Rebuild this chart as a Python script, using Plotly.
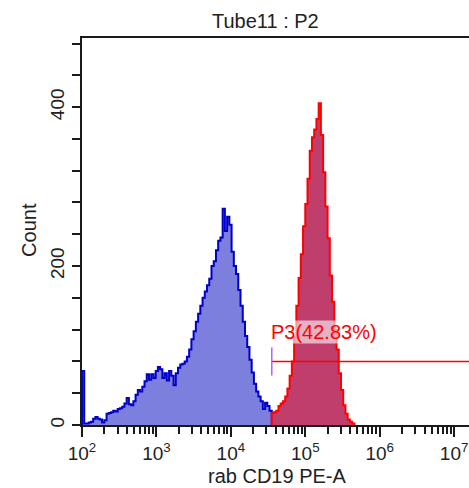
import numpy as np
import plotly.graph_objects as go

# Histogram of rab CD19 PE-A, tube 11, population P2.
# Bins are equal-width in log10 space, starting at 10^2.
LOG_START = 2.0
BIN_WIDTH = 0.03  # decades per bin

# Counts below the P3 gate (bins 0..84)
below_gate_counts = [
    68, 2, 2, 3, 4, 8, 10, 8, 7, 3,
    6, 14, 15, 16, 18, 17, 20, 21, 23, 27,
    34, 26, 25, 30, 38, 44, 42, 48, 55, 64,
    57, 64, 59, 68, 73, 70, 59, 65, 56, 68,
    62, 50, 65, 72, 76, 77, 80, 86, 95, 108,
    118, 130, 140, 150, 160, 168, 176, 184, 200, 206,
    220, 232, 236, 272, 244, 262, 252, 218, 200, 190,
    170, 150, 130, 112, 98, 82, 66, 52, 42, 36,
    30, 20, 28, 24, 18,
]

# Counts inside the P3 gate (bins 85..121)
gate_counts = [
    15, 16, 18, 24, 27, 30, 36, 46, 62, 80,
    110, 150, 185, 215, 250, 278, 310, 345, 362, 372,
    385, 405, 365, 318, 275, 235, 188, 155, 120, 95,
    65, 44, 25, 14, 7, 4, 2,
]

gate_name = "P3"
gate_percent = 42.83
gate_bar_count = 80  # height at which the gate bar is drawn

title_text = "Tube11 : P2"
x_title = "rab CD19 PE-A"
y_title = "Count"
x_decades = [2, 3, 4, 5, 6, 7]
y_major_ticks = [0, 200, 400]
y_minor_step = 40

FONT = "Arial, Liberation Sans, sans-serif"
TEXT_COLOR = "#222222"
AXIS_COLOR = "#1a1a1a"


def step_xy(first_bin, counts):
    """Build closed step outline (hv) for a run of log-spaced bins."""
    n = len(counts)
    log_edges = LOG_START + BIN_WIDTH * (first_bin + np.arange(n + 1))
    edges = 10 ** log_edges
    xs = [edges[0]] + list(edges[:-1]) + [edges[-1], edges[-1]]
    ys = [0] + list(counts) + [counts[-1], 0]
    return xs, ys, edges


bx, by, b_edges = step_xy(0, below_gate_counts)
rx, ry, r_edges = step_xy(len(below_gate_counts), gate_counts)
gate_low = r_edges[0]
gate_high = 10 ** 7.6

fig = go.Figure()

fig.add_trace(go.Scatter(
    x=bx, y=by, mode="lines", line_shape="hv",
    line=dict(color="#0000c8", width=2),
    fill="tozeroy", fillcolor="#7c7fde",
    hoverinfo="skip", showlegend=False,
))
fig.add_trace(go.Scatter(
    x=rx, y=ry, mode="lines", line_shape="hv",
    line=dict(color="#ff0000", width=2),
    fill="tozeroy", fillcolor="#bf3e6c",
    hoverinfo="skip", showlegend=False,
))

# Gate bar with an end cap at its lower bound
fig.add_trace(go.Scatter(
    x=[gate_low, gate_high], y=[gate_bar_count, gate_bar_count],
    mode="lines", line=dict(color="#ff0000", width=1.5),
    hoverinfo="skip", showlegend=False, cliponaxis=True,
))
fig.add_trace(go.Scatter(
    x=[gate_low], y=[gate_bar_count], mode="markers",
    marker=dict(symbol="line-ns-open", size=20,
                line=dict(color="#ff0000", width=1.5)),
    hoverinfo="skip", showlegend=False,
))

fig.add_annotation(
    x=np.log10(gate_low), y=117, xref="x", yref="y",
    text=f"{gate_name}({gate_percent:.2f}%)",
    showarrow=False, xanchor="left", yanchor="middle", xshift=-2,
    font=dict(family=FONT, size=20, color="#ff0000"),
    bgcolor="rgba(255,255,255,0.6)", borderpad=0,
)

fig.add_annotation(
    x=(265 - 82) / 387, y=1.045, xref="paper", yref="paper",
    text=title_text, showarrow=False, xanchor="center", yanchor="middle",
    font=dict(family=FONT, size=20, color=TEXT_COLOR),
)
fig.add_annotation(
    x=0.5026, y=-0.132, xref="paper", yref="paper",
    text=x_title, showarrow=False, xanchor="center", yanchor="middle",
    font=dict(family=FONT, size=20, color=TEXT_COLOR),
)
fig.add_annotation(
    x=-0.137, y=0.504, xref="paper", yref="paper",
    text=y_title, showarrow=False, textangle=-90,
    xanchor="center", yanchor="middle",
    font=dict(family=FONT, size=20, color=TEXT_COLOR),
)

minor_x = [m * 10 ** e for e in x_decades[:-1] for m in range(2, 10)]

fig.update_xaxes(
    type="log", range=[2, 7.2],
    tickmode="array",
    tickvals=[10 ** d for d in x_decades],
    ticktext=[f"10<sup>{d}</sup>" for d in x_decades],
    ticks="outside", ticklen=10, tickwidth=1.5, tickcolor=AXIS_COLOR,
    minor=dict(tickmode="array", tickvals=minor_x, ticks="outside",
               ticklen=7, tickwidth=1.5, tickcolor=AXIS_COLOR),
    showline=True, linecolor=AXIS_COLOR, linewidth=2, mirror=True,
    showgrid=False, zeroline=False,
    tickfont=dict(family=FONT, size=19, color=TEXT_COLOR),
)
fig.update_yaxes(
    range=[0, 487],
    tickmode="array",
    tickvals=y_major_ticks,
    ticktext=[str(v) for v in y_major_ticks],
    tickangle=-90,
    ticks="outside", ticklen=8, tickwidth=1.5, tickcolor=AXIS_COLOR,
    minor=dict(tickmode="linear", tick0=0, dtick=y_minor_step,
               ticks="outside", ticklen=8, tickwidth=1.5,
               tickcolor=AXIS_COLOR, showgrid=False),
    showline=True, linecolor=AXIS_COLOR, linewidth=2, mirror=False,
    showgrid=False, zeroline=False,
    tickfont=dict(family=FONT, size=19, color=TEXT_COLOR),
)

fig.update_layout(
    width=469, height=488,
    margin=dict(l=82, r=0, t=38, b=63),
    paper_bgcolor="white", plot_bgcolor="white",
    font=dict(family=FONT, color=TEXT_COLOR),
)

fig.write_html("out.html")
